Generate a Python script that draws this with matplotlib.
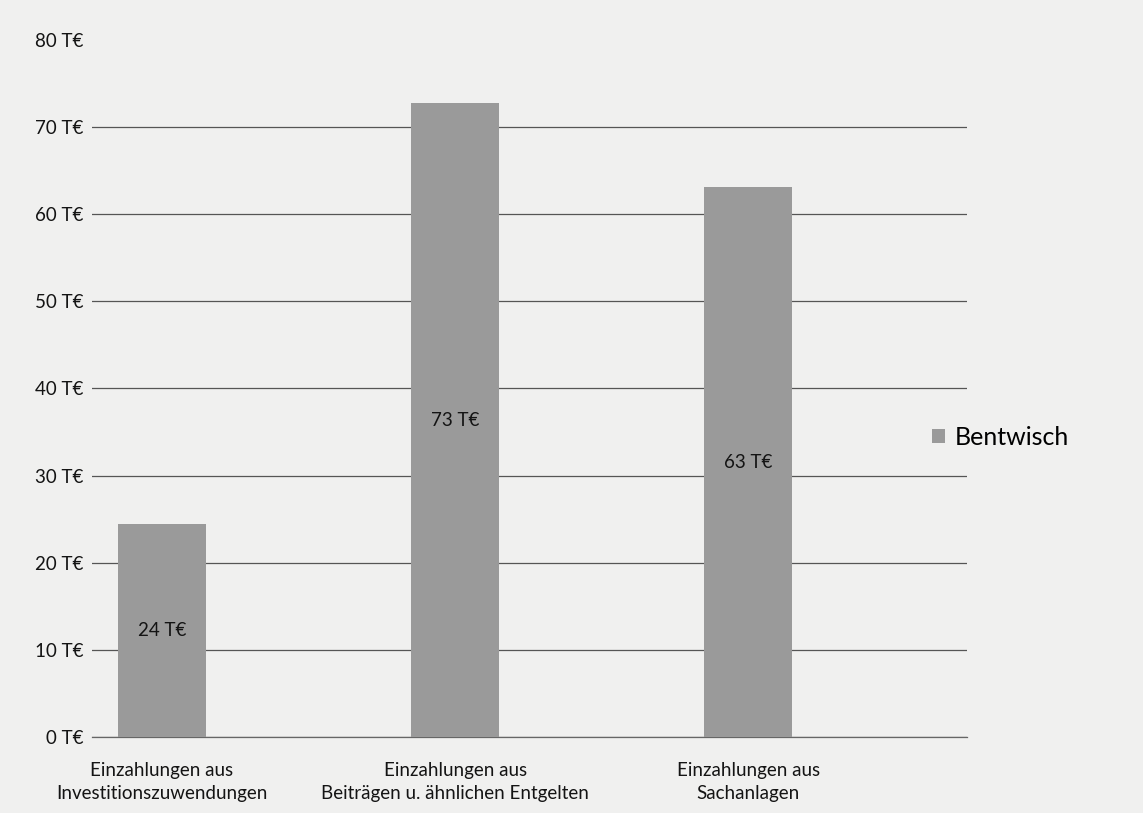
import matplotlib
matplotlib.use("Agg")
from matplotlib import pyplot as plt
import numpy as np

categories = ["Einzahlungen aus\nInvestitionszuwendungen",
              "Einzahlungen aus\nBeiträgen u. ähnlichen Entgelten",
              "Einzahlungen aus\nSachanlagen"]
bentwisch = [24.4, 72.7, 63.1]  # T€
yticks = [0, 10, 20, 30, 40, 50, 60, 70, 80]

plt.rcParams['font.family'] = ['Lato', 'DejaVu Sans']

bg = "#f0f0ef"
fig = plt.figure(figsize=(11.43, 8.13), dpi=100, facecolor=bg)
ax = fig.add_axes([0.0805, 0.0935, 0.7655, 0.8575], facecolor=bg)

x = np.arange(len(categories))
bars = ax.bar(x, bentwisch, width=0.3, color="#9a9a9a", label="Bentwisch", zorder=3)

for xi, v in zip(x, bentwisch):
    ax.text(xi, v / 2, f"{round(v)} T€", ha="center", va="center",
            fontsize=13.5, color="#141414", zorder=4)

# bars sit left of the slot centres, as in the original layout
ax.set_xlim(-0.239, 2.747)
ax.set_ylim(0, 80)
ax.set_yticks(yticks)
ax.set_yticklabels([f"{t} T€" for t in yticks])
ax.set_xticks(x)
ax.set_xticklabels(categories, fontsize=13.5, color="#141414", linespacing=1.4)
ax.tick_params(axis="y", length=0, pad=6, labelsize=13.5, labelcolor="#141414")
ax.tick_params(axis="x", length=0, pad=18)

ax.yaxis.grid(True, color="#555555", linewidth=0.9, zorder=1)
ax.get_ygridlines()[-1].set_visible(False)
for side in ["top", "right", "left"]:
    ax.spines[side].set_visible(False)
ax.spines["bottom"].set_color("#666666")
ax.spines["bottom"].set_linewidth(0.9)

fig.legend(handles=[bars], labels=["Bentwisch"], loc="center left",
           bbox_to_anchor=(0.796, 0.462), frameon=False, fontsize=18,
           handlelength=0.5, handleheight=0.5, handletextpad=0.4)

plt.savefig("out.png", dpi=100, facecolor=bg)
